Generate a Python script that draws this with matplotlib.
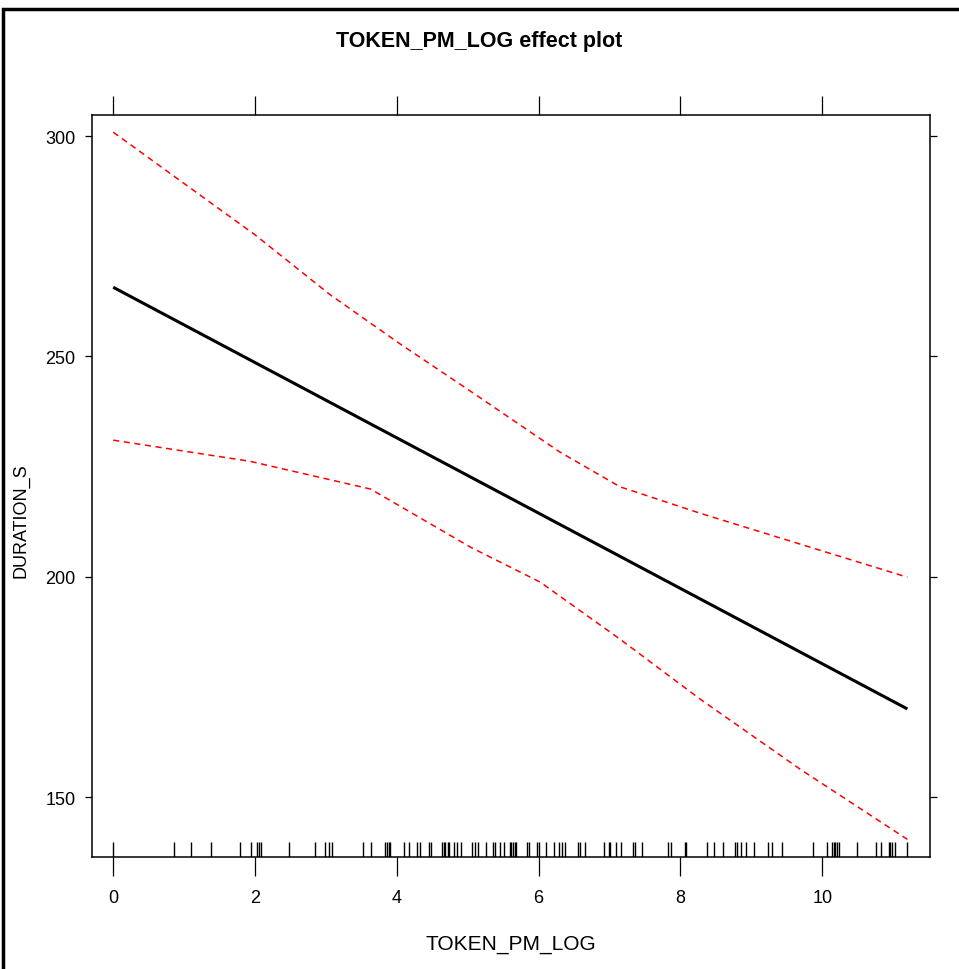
import numpy as np
import matplotlib.pyplot as plt
from matplotlib.patches import Rectangle

# Data
fit_x = [0.0, 11.2]
fit_y = [265.7, 170.0]

upper_x = [0.0, 2.0, 3.06, 4.05, 5.04, 6.30, 7.15, 8.28, 9.69, 11.2]
upper_y = [300.9, 277.6, 264.0, 252.8, 242.1, 228.3, 220.4, 214.4, 207.4, 199.9]

lower_x = [0.0, 1.93, 3.63, 5.04, 6.02, 7.15, 8.28, 9.69, 11.2]
lower_y = [231.0, 226.2, 219.9, 206.7, 198.8, 185.8, 172.2, 156.3, 140.4]

rug = [0.0, 0.85, 1.10, 1.38, 1.79, 1.95, 2.03, 2.05, 2.08, 2.48, 2.84, 2.99,
       3.04, 3.08, 3.52, 3.63, 3.83, 3.86, 3.89, 3.91, 4.10, 4.17, 4.29, 4.32,
       4.45, 4.48, 4.64, 4.66, 4.68, 4.72, 4.73, 4.81, 4.85, 4.91, 5.06, 5.10,
       5.14, 5.26, 5.36, 5.39, 5.45, 5.51, 5.59, 5.61, 5.64, 5.66, 5.68, 5.84,
       5.87, 5.97, 6.01, 6.10, 6.22, 6.28, 6.33, 6.37, 6.56, 6.59, 6.66, 6.92,
       6.99, 7.01, 7.09, 7.16, 7.33, 7.36, 7.46, 7.82, 7.86, 8.06, 8.08, 8.38,
       8.48, 8.60, 8.77, 8.80, 8.86, 8.93, 9.04, 9.24, 9.29, 9.43, 9.87, 10.06,
       10.14, 10.16, 10.18, 10.21, 10.24, 10.49, 10.76, 10.83, 10.94, 10.96,
       10.99, 11.02, 11.19]

xticks = [0, 2, 4, 6, 8, 10]
yticks = [150, 200, 250, 300]

fam = ['Liberation Sans Narrow', 'Liberation Sans', 'DejaVu Sans']

fig = plt.figure(figsize=(9.59, 9.70), dpi=100)
ax = fig.add_axes([0.0959, 0.1155, 0.8739, 0.7649])

ax.plot(fit_x, fit_y, color='black', linewidth=2.2, solid_capstyle='butt')
ax.plot(upper_x, upper_y, color='red', linewidth=1.1, dashes=(4, 3))
ax.plot(lower_x, lower_y, color='red', linewidth=1.1, dashes=(4, 3))

# rug along the bottom
ax.vlines(rug, 0, 0.02, transform=ax.get_xaxis_transform(),
          color='black', linewidth=1.0)

ax.set_xlim(-0.30, 11.52)
ax.set_ylim(136.4, 304.8)

ax.set_xticks(xticks)
ax.set_yticks(yticks)
ax.tick_params(axis='x', which='both', direction='out', length=14, width=0.9,
               top=True, labeltop=False, pad=9)
ax.tick_params(axis='y', which='both', direction='out', length=5, width=0.9,
               right=True, labelright=False, pad=7)
for lab in ax.get_xticklabels() + ax.get_yticklabels():
    lab.set_family(fam)
    lab.set_fontsize(13)

for sp in ax.spines.values():
    sp.set_linewidth(1.1)

ax.set_xlabel('TOKEN_PM_LOG', family=fam, fontsize=15)
ax.xaxis.set_label_coords(0.5, -0.104)
ax.set_ylabel('DURATION_S', family=fam, fontsize=13)
ax.yaxis.set_label_coords(-0.074, 0.455)

fig.text(0.5, 1 - 41 / 970, 'TOKEN_PM_LOG effect plot', family=fam,
         fontsize=15.5, fontweight='bold', ha='center', va='center')

# outer frame of the original graphics device
fig.patches.append(Rectangle((3 / 959, -0.2), 1.2, 1 - 10 / 970 + 0.2,
                             transform=fig.transFigure, fill=False,
                             edgecolor='black', linewidth=2.5, clip_on=False))

plt.savefig('out.png', dpi=100)
